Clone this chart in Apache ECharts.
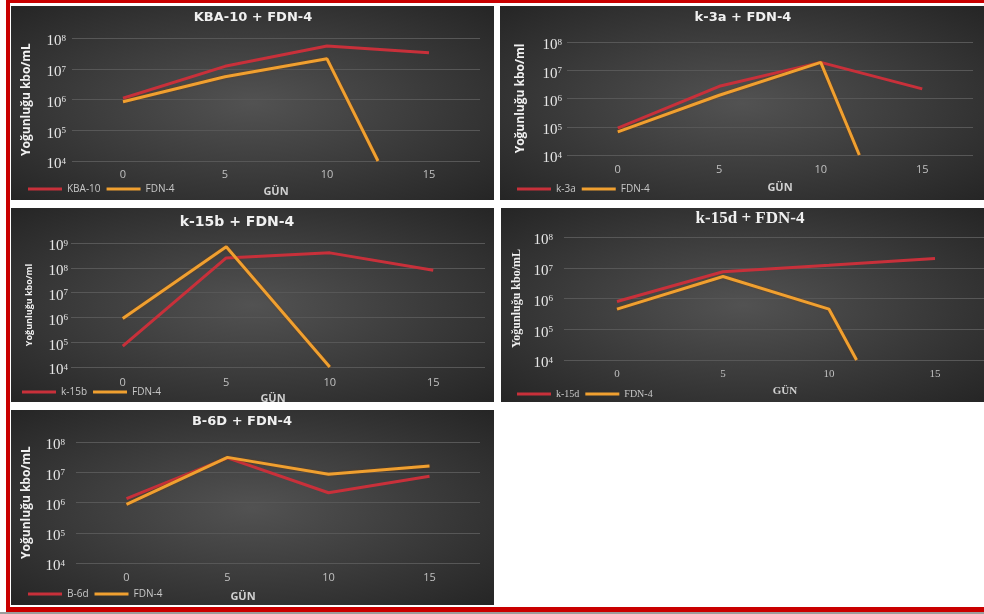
<!DOCTYPE html>
<html><head><meta charset="utf-8">
<script src="https://cdn.jsdelivr.net/npm/echarts@6/dist/echarts.min.js"></script>
<style>
html,body{margin:0;padding:0;width:984px;height:614px;overflow:hidden;background:#fff;position:relative}
#frame{position:absolute;left:6px;top:0;width:1000px;height:604px;border-top:3px solid #c90000;border-left:4px solid #c90000;border-bottom:5px solid #c90000}
#shade{position:absolute;left:0;top:612px;width:984px;height:2px;background:#9c9c9c}
.p{position:absolute;overflow:hidden;background:radial-gradient(ellipse at 50% 50%, #525252 0%, #3e3e3e 45%, #252525 100%)}
</style></head><body>
<div id="frame"></div><div id="shade"></div>
<div class="p" id="p1" style="left:11px;top:6px;width:483px;height:194px"></div>
<div class="p" id="p2" style="left:500px;top:6px;width:484px;height:194px"></div>
<div class="p" id="p3" style="left:11px;top:208px;width:483px;height:194px"></div>
<div class="p" id="p4" style="left:501px;top:208px;width:483px;height:194px"></div>
<div class="p" id="p5" style="left:11px;top:410px;width:483px;height:195px"></div>
<script>
// ---------- data ----------
const days = [0, 5, 10, 15];
const xTickLabels = ['0', '5', '10', '15'];
const xAxisName = 'GÜN';

// Panel 1: KBA-10 + FDN-4
const kba10Vals = [1.1e6, 1.2e7, 5.5e7, 3.3e7];
const fdn4KbaDays = [0, 5, 10, 12.5];
const fdn4KbaVals = [8.5e5, 5.5e6, 2.1e7, 1e4];

// Panel 2: k-3a + FDN-4
const k3aVals = [9e4, 2.7e6, 1.9e7, 2.2e6];
const fdn4K3aDays = [0, 5, 10, 11.9];
const fdn4K3aVals = [6.6e4, 1.3e6, 1.9e7, 1e4];

// Panel 3: k-15b + FDN-4
const k15bVals = [7e4, 2.5e8, 4e8, 8e7];
const fdn4K15bDays = [0, 5, 10];
const fdn4K15bVals = [9e5, 7e8, 1e4];

// Panel 4: k-15d + FDN-4
const k15dVals = [8e5, 7.4e6, 1.2e7, 2e7];
const fdn4K15dDays = [0, 5, 10, 11.3];
const fdn4K15dVals = [4.5e5, 5.2e6, 4.5e5, 1e4];

// Panel 5: B-6D + FDN-4
const b6dVals = [1.35e6, 3e7, 2.1e6, 7.4e6];
const fdn4B6dDays = [0, 5, 10, 15];
const fdn4B6dVals = [8.6e5, 3.1e7, 8.6e6, 1.6e7];

const titles = ['KBA-10 + FDN-4', 'k-3a + FDN-4', 'k-15b + FDN-4', 'k-15d + FDN-4', 'B-6D + FDN-4'];
const yNames = ['Yoğunluğu kbo/mL', 'Yoğunluğu kbo/ml', 'Yoğunluğu kbo/ml', 'Yoğunluğu kbo/mL', 'Yoğunluğu kbo/mL'];
const seriesNames = [['KBA-10', 'FDN-4'], ['k-3a', 'FDN-4'], ['k-15b', 'FDN-4'], ['k-15d', 'FDN-4'], ['B-6d', 'FDN-4']];

// ---------- helpers ----------
const RED = '#c8303a';
const ORANGE = '#f0a030';
function zip(xs, ys) { return xs.map((x, i) => [x, ys[i]]); }

const SANS = '"Open Sans", "DejaVu Sans", sans-serif';
const SERIF = '"Liberation Serif", "DejaVu Serif", serif';

const layouts = [
  { el: 'p1', grid: { left: 61, top: 32, width: 408, height: 123 }, yMax: 1e8, titleX: 242, titleTop: 5, titleSize: 13,
    yLabelMargin: 6, yNameGap: 39, yNameSize: 12, xLabelMargin: 8, xNameGap: 25, xNameShift: 0,
    legendX: 17, legendTop: 178, font: SANS, titleFont: '"DejaVu Sans", sans-serif' },
  { el: 'p2', grid: { left: 67, top: 36, width: 406, height: 113 }, yMax: 1e8, titleX: 243, titleTop: 5, titleSize: 13,
    yLabelMargin: 5, yNameGap: 40, yNameSize: 12, xLabelMargin: 9, xNameGap: 27, xNameShift: 10,
    legendX: 17, legendTop: 178, font: SANS, titleFont: '"DejaVu Sans", sans-serif' },
  { el: 'p3', grid: { left: 60, top: 35, width: 414, height: 124 }, yMax: 1e9, titleX: 226, titleTop: 7, titleSize: 14,
    yLabelMargin: 3, yNameGap: 37, yNameSize: 9, xLabelMargin: 10, xNameGap: 22, xNameShift: -5,
    legendX: 11, legendTop: 179, font: SANS, titleFont: '"DejaVu Sans", sans-serif' },
  { el: 'p4', grid: { left: 63, top: 29, width: 424, height: 123 }, yMax: 1e8, titleX: 249, titleTop: 2, titleSize: 17,
    yLabelMargin: 11, yNameGap: 41, yNameSize: 12, xLabelMargin: 9, xNameGap: 26, xNameShift: 9,
    legendX: 16, legendTop: 181, font: SERIF, titleFont: SERIF },
  { el: 'p5', grid: { left: 65, top: 32, width: 404, height: 121 }, yMax: 1e8, titleX: 231, titleTop: 5, titleSize: 13,
    yLabelMargin: 11, yNameGap: 43, yNameSize: 12, xLabelMargin: 9, xNameGap: 28, xNameShift: -35,
    legendX: 17, legendTop: 179, font: SANS, titleFont: '"DejaVu Sans", sans-serif' }
];

const seriesData = [
  [zip(days, kba10Vals), zip(fdn4KbaDays, fdn4KbaVals)],
  [zip(days, k3aVals), zip(fdn4K3aDays, fdn4K3aVals)],
  [zip(days, k15bVals), zip(fdn4K15bDays, fdn4K15bVals)],
  [zip(days, k15dVals), zip(fdn4K15dDays, fdn4K15dVals)],
  [zip(days, b6dVals), zip(fdn4B6dDays, fdn4B6dVals)]
];

function makeOption(i) {
  const L = layouts[i];
  const names = seriesNames[i];
  const shift = L.xNameShift;
  const namePad = shift >= 0 ? [0, 0, 0, 2 * shift] : [0, -2 * shift, 0, 0];
  return {
    backgroundColor: 'transparent',
    animation: false,
    title: {
      text: titles[i], left: L.titleX, top: L.titleTop, textAlign: 'center', padding: 0,
      textStyle: { color: '#f0f0f0', fontSize: L.titleSize, fontWeight: 'bold', fontFamily: L.titleFont }
    },
    legend: {
      left: L.legendX, top: L.legendTop, padding: 0, icon: 'rect', itemWidth: 34, itemHeight: 3, itemGap: 6,
      textStyle: { color: '#c8c8c8', fontSize: 10, fontFamily: L.font },
      data: names
    },
    grid: Object.assign({ outerBoundsMode: 'none', containLabel: false }, L.grid),
    xAxis: {
      type: 'value', min: -2.5, max: 17.5, interval: 2.5,
      name: xAxisName, nameLocation: 'middle', nameGap: L.xNameGap,
      nameTextStyle: { color: '#d0d0d0', fontSize: 11, fontWeight: 'bold', fontFamily: L.font, padding: namePad },
      axisLine: { show: false }, axisTick: { show: false }, splitLine: { show: false },
      axisLabel: {
        color: '#c0c0c0', fontSize: 11, fontFamily: L.font, margin: L.xLabelMargin,
        formatter: v => { const k = days.indexOf(v); return k >= 0 ? xTickLabels[k] : ''; }
      }
    },
    yAxis: {
      type: 'log', logBase: 10, min: 1e4, max: L.yMax,
      name: yNames[i], nameLocation: 'middle', nameGap: L.yNameGap,
      nameTextStyle: { color: '#f0f0f0', fontSize: L.yNameSize, fontWeight: 'bold', fontFamily: L.font },
      axisLine: { show: false }, axisTick: { show: false },
      splitLine: { show: true, lineStyle: { color: '#575757', width: 1 } },
      axisLabel: {
        margin: L.yLabelMargin, color: '#e6e6e6', fontSize: 15, fontFamily: SERIF, padding: [7, 0, 0, 0],
        formatter: v => '10{s|' + Math.round(Math.log10(v)) + '}',
        rich: { s: { fontSize: 9, fontFamily: SERIF, color: '#e6e6e6', verticalAlign: 'top', lineHeight: 10, padding: [0, 0, 6, 0] } }
      }
    },
    series: [
      { name: names[0], type: 'line', data: seriesData[i][0], symbol: 'none', color: RED,
        lineStyle: { color: RED, width: 3 } },
      { name: names[1], type: 'line', data: seriesData[i][1], symbol: 'none', color: ORANGE,
        lineStyle: { color: ORANGE, width: 3, shadowColor: 'rgba(120,60,0,0.7)', shadowBlur: 2 } }
    ]
  };
}

layouts.forEach((L, i) => {
  const chart = echarts.init(document.getElementById(L.el), null, { renderer: 'canvas' });
  chart.setOption(makeOption(i));
});
</script>
</body></html>
